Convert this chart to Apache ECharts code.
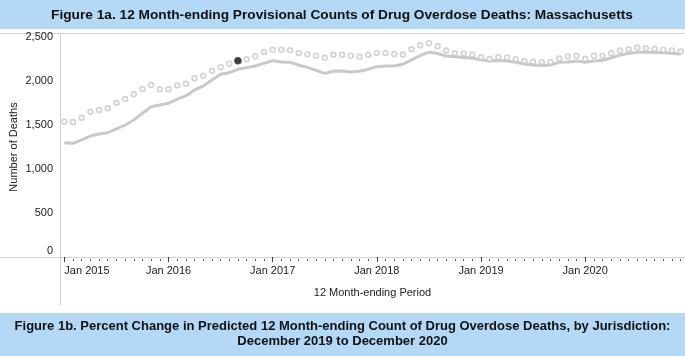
<!DOCTYPE html>
<html><head><meta charset="utf-8">
<script src="https://cdn.jsdelivr.net/npm/echarts@6/dist/echarts.min.js"></script>
<style>html,body{margin:0;padding:0;background:#fff}#c{width:685px;height:356px}</style>
</head><body><div id="c"></div>
<script>
const months = [
 'Jan 2015','Feb 2015','Mar 2015','Apr 2015','May 2015','Jun 2015','Jul 2015','Aug 2015','Sep 2015','Oct 2015','Nov 2015','Dec 2015',
 'Jan 2016','Feb 2016','Mar 2016','Apr 2016','May 2016','Jun 2016','Jul 2016','Aug 2016','Sep 2016','Oct 2016','Nov 2016','Dec 2016',
 'Jan 2017','Feb 2017','Mar 2017','Apr 2017','May 2017','Jun 2017','Jul 2017','Aug 2017','Sep 2017','Oct 2017','Nov 2017','Dec 2017',
 'Jan 2018','Feb 2018','Mar 2018','Apr 2018','May 2018','Jun 2018','Jul 2018','Aug 2018','Sep 2018','Oct 2018','Nov 2018','Dec 2018',
 'Jan 2019','Feb 2019','Mar 2019','Apr 2019','May 2019','Jun 2019','Jul 2019','Aug 2019','Sep 2019','Oct 2019','Nov 2019','Dec 2019',
 'Jan 2020','Feb 2020','Mar 2020','Apr 2020','May 2020','Jun 2020','Jul 2020','Aug 2020','Sep 2020','Oct 2020','Nov 2020','Dec 2020'
];
const predicted = [
 1538,1534,1583,1651,1670,1690,1753,1795,1849,1909,1955,1906,
 1906,1951,1969,2031,2060,2117,2156,2197,2231,2246,2280,2330,
 2354,2354,2350,2318,2305,2288,2265,2299,2299,2288,2276,2299,
 2318,2318,2307,2300,2360,2405,2430,2395,2347,2315,2312,2300,
 2270,2250,2272,2268,2248,2228,2218,2215,2216,2256,2278,2288,
 2252,2288,2288,2314,2347,2362,2381,2371,2367,2356,2348,2336
];
const reported = [
 1299,1292,1330,1375,1398,1413,1455,1500,1557,1633,1708,1727,
 1747,1795,1830,1898,1943,2011,2076,2094,2133,2152,2171,2201,
 2231,2216,2212,2182,2155,2121,2087,2110,2114,2103,2110,2133,
 2163,2171,2171,2190,2240,2290,2328,2312,2284,2275,2268,2261,
 2242,2226,2233,2226,2212,2193,2182,2175,2182,2212,2215,2228,
 2214,2227,2236,2262,2295,2312,2328,2326,2324,2322,2314,2307
];
const highlightIndex = 20;
const yTickValues = [0, 500, 1000, 1500, 2000, 2500];
const titleTop = 'Figure 1a. 12 Month-ending Provisional Counts of Drug Overdose Deaths: Massachusetts';
const titleBottom = 'Figure 1b. Percent Change in Predicted 12 Month-ending Count of Drug Overdose Deaths, by Jurisdiction:\nDecember 2019 to December 2020';

const FONT = '"Liberation Sans", Arial, sans-serif';
const GRAY = '#c9c9c9';
const FRAME = '#d0d0d0';
const BANNER = '#b3d9f7';

const chart = echarts.init(document.getElementById('c'), null, {renderer: 'canvas'});
const highlight = predicted.map((v, i) => i === highlightIndex ? v : '-');

chart.setOption({
  animation: false,
  backgroundColor: '#fff',
  grid: {left: 60, right: 0, top: 37, bottom: 99, containLabel: false, outerBoundsMode: 'none'},
  xAxis: [{
    type: 'category', data: months, boundaryGap: true, position: 'bottom',
    axisLine: {show: false},
    axisTick: {show: true, interval: 11, alignWithLabel: true, length: 5, lineStyle: {color: '#333', width: 1}},
    axisLabel: {interval: 11, margin: 8, fontFamily: FONT, fontSize: 11, color: '#222', alignMinLabel: 'left'},
    splitLine: {show: false},
    name: '12 Month-ending Period', nameLocation: 'middle', nameGap: 30, nameMoveOverlap: false,
    nameTextStyle: {fontFamily: FONT, fontSize: 11, color: '#222'}
  }, {
    type: 'category', data: months, boundaryGap: true, position: 'bottom', offset: 2,
    axisLine: {show: false},
    axisTick: {show: true, interval: 0, alignWithLabel: true, length: 2, lineStyle: {color: '#555', width: 1}},
    axisLabel: {show: false}, splitLine: {show: false}
  }],
  yAxis: {
    type: 'value', min: 0, max: 2500, interval: 500,
    axisLine: {show: false}, axisTick: {show: false}, splitLine: {show: false},
    axisLabel: {
      margin: 7, fontFamily: FONT, fontSize: 11, color: '#222',
      formatter: v => v === 0 ? '{z|0}' : v.toLocaleString('en-US'),
      rich: {z: {fontFamily: FONT, fontSize: 11, color: '#222', padding: [0, 0, 12, 0]}}
    },
    name: 'Number of Deaths', nameLocation: 'middle', nameGap: 41, nameMoveOverlap: false,
    nameTextStyle: {fontFamily: FONT, fontSize: 11, color: '#222'}
  },
  series: [{
    name: 'Reported', type: 'line', data: reported, showSymbol: false, symbol: 'none',
    lineStyle: {color: GRAY, width: 3}, z: 2, silent: true
  }, {
    name: 'Predicted', type: 'scatter', data: predicted, symbol: 'circle', symbolSize: 4.8,
    itemStyle: {color: '#fff', borderColor: GRAY, borderWidth: 1.7}, z: 3, silent: true
  }, {
    name: 'Selected', type: 'scatter', data: highlight, symbol: 'circle', symbolSize: 7,
    itemStyle: {color: '#111', borderColor: '#666', borderWidth: 1}, z: 4, silent: true
  }],
  graphic: [
    {type: 'rect', shape: {x: 0, y: 0, width: 685, height: 29}, style: {fill: BANNER}, silent: true},
    {type: 'text', x: 342, y: 15, style: {text: titleTop, font: 'bold 13.7px ' + FONT, fill: '#111', align: 'center', verticalAlign: 'middle'}},
    {type: 'line', shape: {x1: 0, y1: 33.5, x2: 685, y2: 33.5}, style: {stroke: FRAME, lineWidth: 1}},
    {type: 'line', shape: {x1: 0, y1: 257.5, x2: 685, y2: 257.5}, style: {stroke: FRAME, lineWidth: 1}},
    {type: 'line', shape: {x1: 60.5, y1: 33, x2: 60.5, y2: 305}, style: {stroke: FRAME, lineWidth: 1}},
    {type: 'rect', shape: {x: 0, y: 313, width: 685, height: 43}, style: {fill: BANNER}, silent: true},
    {type: 'text', x: 342.5, y: 334, style: {text: titleBottom, font: 'bold 13px ' + FONT, fill: '#111', align: 'center', verticalAlign: 'middle', lineHeight: 15}}
  ]
});
</script>
</body></html>
